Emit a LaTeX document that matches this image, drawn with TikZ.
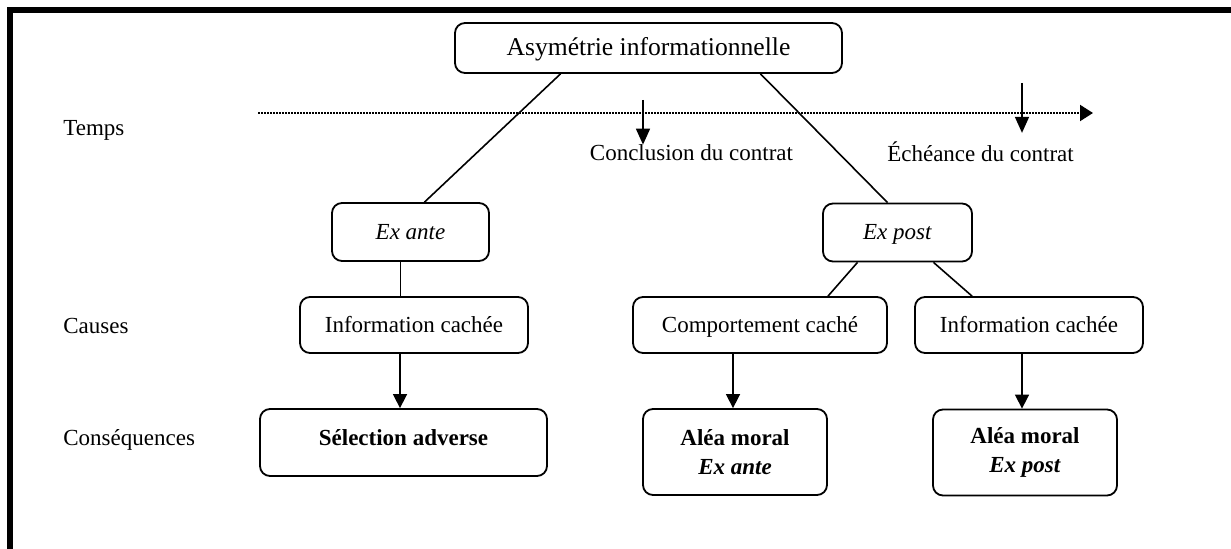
\documentclass[tikz,border=0pt]{standalone}
\usepackage{fontspec}
\setmainfont{Liberation Serif}
\usetikzlibrary{arrows.meta}

\begin{document}
\begin{tikzpicture}[x=0.5pt, y=-0.5pt,
    txt/.style={font=\fontsize{11.5}{14.5}\selectfont},
    box/.style={txt, rectangle, rounded corners=5pt, draw, line width=0.9pt, align=center, inner sep=0pt},
    oneline/.style={text height=9pt, text depth=1.5pt},
    topbox/.style={box, minimum width=193.5pt, minimum height=25pt, font=\fontsize{12.8}{15}\selectfont, text height=10pt, text depth=2pt},
    phase/.style={box, oneline, minimum height=29pt},
    cause/.style={box, oneline, minimum height=28pt},
    effect/.style={box, minimum width=92pt, minimum height=43pt},
    rowname/.style={txt, anchor=base west, inner sep=0pt},
    event/.style={txt, anchor=base, inner sep=0pt},
    link/.style={line width=0.8pt},
    down/.style={-{Triangle[length=7pt, width=7pt]}, line width=0.8pt},
    timeline/.style={-{Triangle[length=6.5pt, width=8pt]}, line width=1pt, dash pattern=on 0.8pt off 0.7pt}
]
\useasboundingbox (0,0) rectangle (1231,549);

% frame
\draw[line width=3pt] (10,549) -- (10,10) -- (1231,10);

% row names
\node[rowname] (temps) at (63,136) {Temps};
\node[rowname] (causes) at (63,334) {Causes};
\node[rowname] (conseq) at (63,446) {Conséquences};

% time axis
\coordinate (t0) at (258,113);
\coordinate (t1) at (1093,113);
\draw[timeline] (t0) -- (t1);

\coordinate (m1) at (643,100);
\coordinate (m2) at (1022,83);
\node[event] (conclusion) at (691.5,161) {Conclusion du contrat};
\node[event] (echeance) at (980.5,162) {Échéance du contrat};
\draw[-{Triangle[length=8pt, width=7pt]}, line width=0.8pt] (m1) -- (m1 |- conclusion.north);
\draw[-{Triangle[length=8pt, width=7pt]}, line width=0.8pt, shorten >=4.5pt] (m2) -- (m2 |- echeance.north);

% boxes
\node[topbox] (asym) at (648.5,48) {Asymétrie informationnelle};
\node[phase, minimum width=78.5pt] (exante) at (410.5,232) {\textit{Ex ante}};
\node[phase, minimum width=74.5pt] (expost) at (897.5,232.5) {\textit{Ex post}};
\node[cause, minimum width=114pt] (cacheeA) at (414,325) {Information cachée};
\node[cause, minimum width=127pt] (comport) at (760,325) {Comportement caché};
\node[cause, minimum width=114pt] (cacheeP) at (1029,325) {Information cachée};
\node[box, minimum width=143.5pt, minimum height=33.5pt, text height=6pt, text depth=2.5pt] (selection) at (403.5,442.5) {\textbf{Sélection adverse}};
\node[effect] (aleaA) at (735,452) {\textbf{Aléa moral}\\\textbf{\textit{Ex ante}}};
\node[effect] (aleaP) at (1025,452.5) {\textbf{Aléa moral}\\\textbf{\textit{Ex post}}};

% tree
\draw[link] ([xshift=-44pt]asym.south) -- ([xshift=7pt]exante.north);
\draw[link] ([xshift=56pt]asym.south) -- ([xshift=-5pt]expost.north);
\draw[link] ([xshift=-5pt]exante.south) -- ([xshift=-5pt]exante.south |- cacheeA.north);
\draw[link] ([xshift=-20pt]expost.south) -- ([xshift=34pt]comport.north);
\draw[link] ([xshift=18pt]expost.south) -- ([xshift=-28.5pt]cacheeP.north);

% consequences
\draw[down] ([xshift=-7pt]cacheeA.south) -- ([xshift=-7pt]cacheeA.south |- selection.north);
\draw[down] ([xshift=-13.5pt]comport.south) -- ([xshift=-13.5pt]comport.south |- aleaA.north);
\draw[down] ([xshift=-3.5pt]cacheeP.south) -- ([xshift=-3.5pt]cacheeP.south |- aleaP.north);

\end{tikzpicture}
\end{document}
